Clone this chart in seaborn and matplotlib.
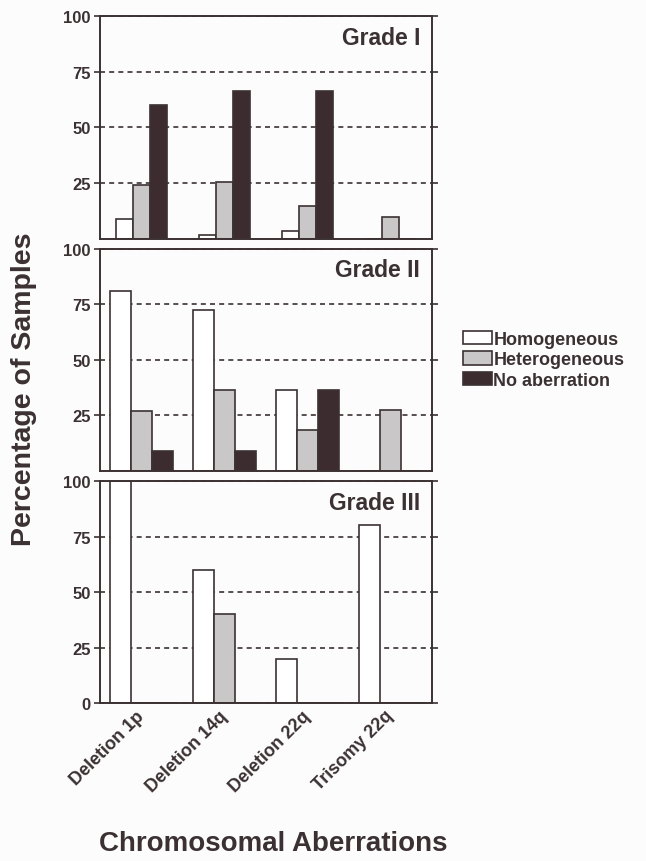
import pandas as pd
import seaborn as sns
import matplotlib.pyplot as plt
from matplotlib.patches import Patch

# Values (percent of samples)
aberrations = ["Deletion 1p", "Deletion 14q", "Deletion 22q", "Trisomy 22q"]
grades = ["Grade I", "Grade II", "Grade III"]
types = ["Homogeneous", "Heterogeneous", "No aberration"]

homogeneous = {
    "Grade I": [9, 1.5, 3.5, 0],
    "Grade II": [81, 72.5, 36.5, 0],
    "Grade III": [100, 60, 20, 80],
}
heterogeneous = {
    "Grade I": [24, 25.5, 14.5, 9.5],
    "Grade II": [27, 36.5, 18.5, 27.5],
    "Grade III": [0, 40, 0, 0],
}
no_aberration = {
    "Grade I": [60, 66.5, 66.5, 0],
    "Grade II": [9, 9, 36.5, 0],
    "Grade III": [0, 0, 0, 0],
}

# long table for seaborn
rows = []
for g in grades:
    for t, vals in zip(types, [homogeneous[g], heterogeneous[g], no_aberration[g]]):
        for a, v in zip(aberrations, vals):
            rows.append({"grade": g, "type": t, "aberration": a, "pct": v})
df = pd.DataFrame(rows)

ink = "#3b3133"
colors = {"Homogeneous": "#ffffff", "Heterogeneous": "#c9c7c8", "No aberration": "#3d2c2f"}
bar_widths = {"Grade I": 0.62, "Grade II": 0.76, "Grade III": 0.76}

sns.set_style("ticks")
plt.rcParams["font.family"] = ["Liberation Sans", "DejaVu Sans"]
plt.rcParams["font.weight"] = "bold"
plt.rcParams["text.color"] = ink
plt.rcParams["axes.labelcolor"] = ink
plt.rcParams["xtick.color"] = ink
plt.rcParams["ytick.color"] = ink

fig, axes = plt.subplots(3, 1, figsize=(6.46, 8.62), dpi=100, sharex=True)
fig.patch.set_facecolor("#fcfcfc")
fig.subplots_adjust(left=0.155, right=0.669, top=0.980, bottom=0.183, hspace=0.045)

for ax, g in zip(axes, grades):
    sub = df[df["grade"] == g]
    sns.barplot(data=sub, x="aberration", y="pct", hue="type", hue_order=types,
                order=aberrations, palette=colors, edgecolor=ink, linewidth=1.2,
                width=bar_widths[g], saturation=1, ax=ax, legend=False)
    ax.set_facecolor("#fcfcfc")
    ax.set_ylim(0, 100)
    ax.set_xlim(-0.5, 3.5)
    if g == "Grade III":
        ax.set_yticks([0, 25, 50, 75, 100])
    else:
        ax.set_yticks([25, 50, 75, 100])
    ax.yaxis.grid(True, linestyle=(0, (3, 2.5)), color=ink, linewidth=1.2)
    ax.set_axisbelow(True)
    for s in ax.spines.values():
        s.set_visible(True)
        s.set_color(ink)
        s.set_linewidth(1.4)
    ax.tick_params(axis="y", left=True, right=True, direction="out", length=4,
                   width=1.2, labelsize=12, pad=3)
    ax.tick_params(axis="x", length=0)
    ax.set_xlabel("")
    ax.set_ylabel("")
    ax.text(0.964, 0.905, g, transform=ax.transAxes, ha="right", va="center",
            fontsize=16.5, fontweight="bold", color=ink)

axes[-1].set_xticks(range(len(aberrations)))
axes[-1].set_xticklabels(aberrations, rotation=45, ha="right", va="center",
                         rotation_mode="anchor", fontsize=13, fontweight="bold")
axes[-1].tick_params(axis="x", pad=7)

fig.text(0.037, 0.549, "Percentage of Samples", rotation=90, ha="center", va="center",
         fontsize=20.5, fontweight="bold", color=ink)
fig.text(0.423, 0.006, "Chromosomal Aberrations", ha="center", va="bottom",
         fontsize=20, fontweight="bold", color=ink)

handles = [Patch(facecolor=colors[t], edgecolor=ink, linewidth=1.2) for t in types]
axes[1].legend(handles, types, loc="center left", bbox_to_anchor=(1.07, 0.5),
               frameon=False, fontsize=13, handlelength=1.65, handleheight=0.75,
               handletextpad=0.05, labelspacing=0.2, borderaxespad=0)

fig.savefig("out.png", dpi=100, facecolor=fig.get_facecolor())
